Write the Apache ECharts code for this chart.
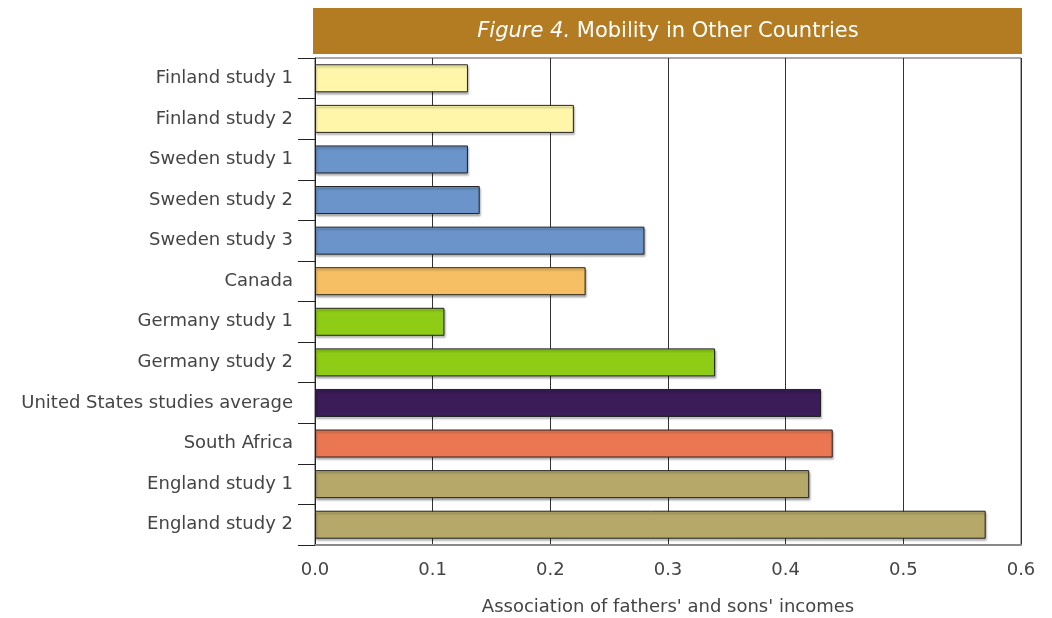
<!DOCTYPE html>
<html>
<head>
<meta charset="utf-8">
<script src="https://cdn.jsdelivr.net/npm/echarts@6/dist/echarts.min.js"></script>
<style>
  html, body { margin: 0; padding: 0; background: #fff; }
  #chart { width: 1052px; height: 618px; }
</style>
</head>
<body>
<div id="chart"></div>
<script>
var categories = [
  "Finland study 1", "Finland study 2",
  "Sweden study 1", "Sweden study 2", "Sweden study 3",
  "Canada",
  "Germany study 1", "Germany study 2",
  "United States studies average",
  "South Africa",
  "England study 1", "England study 2"
];
var values = [0.13, 0.22, 0.13, 0.14, 0.28, 0.23, 0.11, 0.34, 0.43, 0.44, 0.42, 0.57];
var xTicks = [0, 0.1, 0.2, 0.3, 0.4, 0.5, 0.6];

// one colour per country group
var barColors = [
  "#fff6aa", "#fff6aa",
  "#6a94ca", "#6a94ca", "#6a94ca",
  "#f6bf64",
  "#8fcc16", "#8fcc16",
  "#3b1b58",
  "#eb7752",
  "#b5a868", "#b5a868"
];

var font = "DejaVu Sans";
var chart = echarts.init(document.getElementById("chart"));

var option = {
  animation: false,
  backgroundColor: "#fff",
  graphic: [
    {
      type: "rect",
      left: 313, top: 8,
      shape: { width: 709, height: 46 },
      style: { fill: "#b47c22" }
    },
    {
      type: "text",
      x: 668, y: 32,
      style: {
        text: "{i|Figure 4.} Mobility in Other Countries",
        fill: "#fff",
        font: "21px " + font,
        align: "center",
        verticalAlign: "middle",
        rich: {
          i: { fontStyle: "italic", fontSize: 21, fontFamily: font, fill: "#fff" }
        }
      }
    }
  ],
  grid: {
    left: 315, right: 31, top: 58, bottom: 73,
    outerBoundsMode: "none",
    containLabel: false,
    show: true, borderColor: "#555", borderWidth: 1
  },
  xAxis: {
    type: "value",
    min: xTicks[0],
    max: xTicks[xTicks.length - 1],
    interval: 0.1,
    name: "Association of fathers' and sons' incomes",
    nameLocation: "middle",
    nameGap: 53,
    nameTextStyle: { color: "#444", fontSize: 18, fontFamily: font },
    axisLine: { show: true, lineStyle: { color: "#888", width: 2 } },
    axisTick: { show: false },
    axisLabel: {
      color: "#444", fontSize: 18, fontFamily: font, margin: 16,
      formatter: function (v) { return v.toFixed(1); }
    },
    splitLine: { show: true, lineStyle: { color: "#333", width: 1 } }
  },
  yAxis: {
    type: "category",
    data: categories,
    inverse: true,
    axisLine: { show: true, lineStyle: { color: "#222", width: 1 } },
    axisTick: { show: true, length: 17, lineStyle: { color: "#222" } },
    axisLabel: { color: "#444", fontSize: 18, fontFamily: font, margin: 22 },
    splitLine: { show: false }
  },
  series: [{
    type: "bar",
    barWidth: 28,
    data: values.map(function (v, i) {
      return {
        value: v,
        itemStyle: {
          color: barColors[i],
          borderColor: "#222",
          borderWidth: 1,
          shadowColor: "rgba(0,0,0,0.3)",
          shadowBlur: 2,
          shadowOffsetX: 1,
          shadowOffsetY: 2
        }
      };
    })
  }]
};

chart.setOption(option);
</script>
</body>
</html>
